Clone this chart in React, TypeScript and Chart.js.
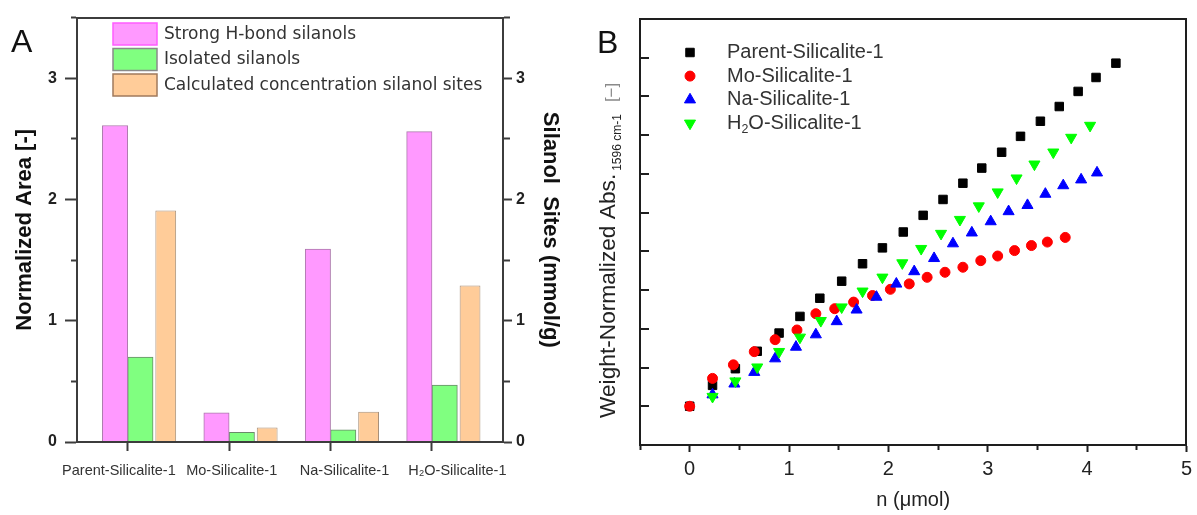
import React, { useEffect, useRef } from 'react';
import { Chart, registerables } from 'chart.js';
import { drawPoint } from 'chart.js/helpers';

Chart.register(...registerables);

const SANS = "'Liberation Sans', Arial, Helvetica, sans-serif";
const WIDE = "'DejaVu Sans', Verdana, sans-serif";

// ---------------- Panel A data ----------------
const sampleNames = ['Parent-Silicalite-1', 'Mo-Silicalite-1', 'Na-Silicalite-1', 'H₂O-Silicalite-1'];
const samplePositions = [0, 1, 2, 3];
const spacerValues = [0, 0, 0, 0];
const strongHBondSilanols = [2.61, 0.24, 1.59, 2.56];
const isolatedSilanols = [0.7, 0.08, 0.1, 0.47];
const silanolSites = [1.91, 0.12, 0.25, 1.29];
const areaTickLabels = ['0', '1', '2', '3'];
const sitesTickLabels = ['0', '1', '2', '3'];

// ---------------- Panel B data ----------------
const nTickLabels = ['0', '1', '2', '3', '4', '5'];
const parentN = [0, 0.23, 0.46, 0.68, 0.9, 1.11, 1.31, 1.53, 1.74, 1.94, 2.15, 2.35, 2.55, 2.75, 2.94, 3.14, 3.33, 3.53, 3.72, 3.91, 4.09, 4.29];
const parentAbs = [0, 0.54, 0.97, 1.42, 1.89, 2.32, 2.79, 3.23, 3.68, 4.09, 4.5, 4.93, 5.34, 5.76, 6.15, 6.56, 6.97, 7.36, 7.74, 8.13, 8.49, 8.86];
const moN = [0, 0.23, 0.44, 0.65, 0.86, 1.08, 1.27, 1.46, 1.65, 1.84, 2.02, 2.21, 2.39, 2.57, 2.75, 2.93, 3.1, 3.27, 3.44, 3.6, 3.78];
const moAbs = [0, 0.72, 1.07, 1.41, 1.72, 1.97, 2.39, 2.52, 2.69, 2.86, 3.02, 3.16, 3.33, 3.46, 3.59, 3.76, 3.88, 4.02, 4.15, 4.24, 4.36];
const naN = [0.23, 0.45, 0.65, 0.86, 1.07, 1.27, 1.48, 1.68, 1.88, 2.08, 2.26, 2.46, 2.65, 2.84, 3.03, 3.21, 3.4, 3.58, 3.76, 3.94, 4.1];
const naAbs = [0.3, 0.58, 0.88, 1.23, 1.53, 1.85, 2.19, 2.49, 2.82, 3.16, 3.48, 3.82, 4.2, 4.48, 4.77, 5.03, 5.19, 5.48, 5.7, 5.85, 6.03];
const h2oN = [0.23, 0.46, 0.68, 0.9, 1.11, 1.32, 1.53, 1.74, 1.94, 2.14, 2.33, 2.53, 2.72, 2.91, 3.1, 3.29, 3.47, 3.66, 3.84, 4.03];
const h2oAbs = [0.25, 0.65, 1.01, 1.41, 1.78, 2.21, 2.56, 2.97, 3.33, 3.7, 4.07, 4.46, 4.82, 5.17, 5.53, 5.89, 6.25, 6.56, 6.94, 7.25];

const toXY = (xs: number[], ys: number[]) => xs.map((x, i) => ({ x, y: ys[i] }));
const isMinor = (c: any) => c && c.tick && !Number.isInteger(c.tick.value);
const SUBS = '₀₁₂₃₄₅₆₇₈₉';

function drawRich(ctx: CanvasRenderingContext2D, text: string, x: number, y: number, size: number, family: string) {
  let run = '';
  let sub = false;
  let cx = x;
  const flush = () => {
    if (!run) return;
    const s = sub ? size * 0.62 : size;
    ctx.font = `${s}px ${family}`;
    ctx.fillText(run, cx, sub ? y + size * 0.3 : y);
    cx += ctx.measureText(run).width;
    run = '';
  };
  for (const ch of text) {
    const idx = SUBS.indexOf(ch);
    const isSub = idx >= 0;
    if (isSub !== sub) {
      flush();
      sub = isSub;
    }
    run += isSub ? String(idx) : ch;
  }
  flush();
}

const AXA = '#3c3c3c';
const AXB = '#1e1e1e';

function PanelA() {
  const ref = useRef<HTMLCanvasElement | null>(null);
  useEffect(() => {
    const panelAPlugin = {
      id: 'panelA',
      afterDraw(chart: any) {
        const ctx = chart.ctx as CanvasRenderingContext2D;
        ctx.save();
        ctx.fillStyle = '#111';
        ctx.textAlign = 'left';
        ctx.textBaseline = 'alphabetic';
        ctx.font = `32px ${SANS}`;
        ctx.fillText('A', 11, 52);
        const items = chart.data.datasets.filter((d: any) => d.label);
        items.forEach((d: any, i: number) => {
          const top = 23 + i * 25.5;
          ctx.fillStyle = d.backgroundColor;
          ctx.fillRect(113, top, 44, 22);
          ctx.strokeStyle = d.legendBorder;
          ctx.lineWidth = 1.5;
          ctx.strokeRect(113, top, 44, 22);
          ctx.fillStyle = '#333';
          ctx.textBaseline = 'middle';
          ctx.font = `17px ${WIDE}`;
          ctx.fillText(d.label, 164, top + 11.5);
        });
        ctx.restore();
      },
    };

    const chart = new Chart(ref.current as HTMLCanvasElement, {
      type: 'bar',
      data: {
        datasets: [
          {
            label: '',
            data: toXY(samplePositions, spacerValues),
            backgroundColor: 'rgba(0,0,0,0)',
            borderWidth: 0,
            yAxisID: 'y',
            categoryPercentage: 1,
            barPercentage: 1,
          },
          {
            label: 'Strong H-bond silanols',
            data: toXY(samplePositions, strongHBondSilanols),
            backgroundColor: '#ff99ff',
            borderColor: '#ad7aad',
            legendBorder: '#ff5cff',
            borderWidth: 1,
            yAxisID: 'y',
            categoryPercentage: 1,
            barPercentage: 1,
          },
          {
            label: 'Isolated silanols',
            data: toXY(samplePositions, isolatedSilanols),
            backgroundColor: '#80ff80',
            borderColor: '#6a8a6a',
            legendBorder: '#8a8a8a',
            borderWidth: 1,
            yAxisID: 'y',
            categoryPercentage: 1,
            barPercentage: 1,
          },
          {
            label: 'Calculated concentration silanol sites',
            data: toXY(samplePositions, silanolSites),
            backgroundColor: '#ffcc99',
            borderColor: '#a8907a',
            legendBorder: '#a07a5c',
            borderWidth: 1,
            yAxisID: 'y2',
            categoryPercentage: 1,
            barPercentage: 0.82,
          },
        ] as any,
      },
      options: {
        responsive: false,
        animation: false,
        events: [],
        layout: { padding: { top: 15, left: 0, right: 0, bottom: 0 } },
        plugins: { legend: { display: false }, tooltip: { enabled: false } },
        scales: {
          x: {
            type: 'linear',
            position: 'bottom',
            weight: 0,
            min: -0.5,
            max: 3.7,
            offset: false,
            afterFit: (s: any) => { s.height = 0; },
            ticks: { stepSize: 1, includeBounds: false, autoSkip: false, display: false },
            grid: { offset: false, drawOnChartArea: false, drawTicks: true, tickLength: 9, tickWidth: 2, tickColor: AXA },
            border: { display: true, color: AXA, width: 2, z: 1 },
          },
          xLabels: {
            type: 'linear',
            position: 'bottom',
            weight: 5,
            min: -0.3715,
            max: 3.405,
            offset: false,
            afterFit: (s: any) => { s.height = 73; },
            ticks: {
              stepSize: 1,
              includeBounds: false,
              autoSkip: false,
              maxRotation: 0,
              padding: 20.3,
              color: '#333',
              font: { family: SANS, size: 14.5 },
              callback: (v: any) => (Number.isInteger(v) ? sampleNames[v] ?? '' : ''),
            },
            grid: { display: false, drawTicks: false },
            border: { display: false },
          },
          xTop: {
            type: 'linear',
            position: 'top',
            offset: false,
            afterFit: (s: any) => { s.height = 0; },
            ticks: { display: false },
            grid: { display: false },
            border: { display: true, color: AXA, width: 2 },
          },
          y: {
            type: 'linear',
            position: 'left',
            min: 0,
            max: 3.5,
            afterFit: (s: any) => { s.width = 77; },
            ticks: {
              stepSize: 0.5,
              autoSkip: false,
              padding: 8,
              color: '#222',
              font: { family: SANS, size: 16, weight: 'bold' },
              callback: (v: any) => (Number.isInteger(v) ? areaTickLabels[v] ?? '' : ''),
            },
            grid: {
              drawOnChartArea: false,
              drawTicks: true,
              tickLength: 12,
              tickWidth: 2,
              tickColor: AXA,
              tickBorderDash: (c: any) => (isMinor(c) ? [5, 100] : []),
              tickBorderDashOffset: (c: any) => (isMinor(c) ? 99 : 0),
            },
            border: { display: true, color: AXA, width: 2 },
            title: {
              display: true,
              text: 'Normalized Area [-]',
              color: '#111',
              font: { family: SANS, size: 22, weight: 'bold' },
              padding: { top: 11.8, bottom: 0 },
            },
          },
          y2: {
            type: 'linear',
            position: 'right',
            min: 0,
            max: 3.5,
            afterFit: (s: any) => { s.width = 87; },
            ticks: {
              stepSize: 0.5,
              autoSkip: false,
              padding: 4,
              color: '#222',
              font: { family: SANS, size: 16, weight: 'bold' },
              callback: (v: any) => (Number.isInteger(v) ? sitesTickLabels[v] ?? '' : ''),
            },
            grid: {
              drawOnChartArea: false,
              drawTicks: true,
              tickLength: 9,
              tickWidth: 2,
              tickColor: AXA,
              tickBorderDash: (c: any) => (isMinor(c) ? [6, 100] : []),
              tickBorderDashOffset: 0,
            },
            border: { display: true, color: AXA, width: 2 },
            title: {
              display: true,
              text: 'Silanol  Sites (mmol/g)',
              color: '#111',
              font: { family: SANS, size: 22, weight: 'bold' },
              padding: { top: 26.8, bottom: 0 },
            },
          },
        },
      } as any,
      plugins: [panelAPlugin],
    });
    return () => chart.destroy();
  }, []);
  return (
    <canvas
      ref={ref}
      width={590}
      height={515}
      style={{ position: 'absolute', left: 0, top: 0, width: 590, height: 515, display: 'block' }}
    />
  );
}

function PanelB() {
  const ref = useRef<HTMLCanvasElement | null>(null);
  useEffect(() => {
    const series = [
      { label: 'Parent-Silicalite-1', xs: parentN, ys: parentAbs },
      { label: 'Mo-Silicalite-1', xs: moN, ys: moAbs },
      { label: 'Na-Silicalite-1', xs: naN, ys: naAbs },
      { label: 'H₂O-Silicalite-1', xs: h2oN, ys: h2oAbs },
    ];
    const styles = [
      { color: '#000000', pointStyle: 'rect', rotation: 0, radius: 6, order: 4 },
      { color: '#ff0000', pointStyle: 'circle', rotation: 0, radius: 5, order: 3 },
      { color: '#0000ff', pointStyle: 'triangle', rotation: 0, radius: 6.4, order: 2 },
      { color: '#00ff00', pointStyle: 'triangle', rotation: 180, radius: 6.4, order: 1 },
    ];

    const panelBPlugin = {
      id: 'panelB',
      afterDraw(chart: any) {
        const ctx = chart.ctx as CanvasRenderingContext2D;
        ctx.save();
        ctx.fillStyle = '#111';
        ctx.textAlign = 'left';
        ctx.textBaseline = 'alphabetic';
        ctx.font = `32px ${SANS}`;
        ctx.fillText('B', 7, 53);
        chart.data.datasets.forEach((d: any, i: number) => {
          const y = 52.5 + i * 23.6;
          ctx.fillStyle = d.backgroundColor;
          ctx.strokeStyle = d.borderColor;
          drawPoint(ctx, { pointStyle: d.pointStyle, rotation: d.pointRotation, radius: d.pointRadius, borderWidth: 1 } as any, 100, y);
          ctx.fillStyle = '#333';
          ctx.textBaseline = 'middle';
          drawRich(ctx, d.label, 137, y, 20, SANS);
        });
        // rotated y-axis title with subscript
        ctx.translate(19, 418);
        ctx.rotate(-Math.PI / 2);
        ctx.textAlign = 'left';
        ctx.textBaseline = 'middle';
        ctx.fillStyle = '#222';
        ctx.font = `22.7px ${SANS}`;
        const main = 'Weight-Normalized Abs.';
        ctx.fillText(main, 0, 0);
        let w = ctx.measureText(main).width + 3;
        ctx.font = `12px ${SANS}`;
        const sub = '1596 cm-1';
        ctx.fillText(sub, w, 9);
        w += ctx.measureText(sub).width + 12;
        ctx.fillStyle = '#8a8a8a';
        ctx.font = `17px ${SANS}`;
        ctx.fillText('[−]', w, 3);
        ctx.restore();
      },
    };

    const chart = new Chart(ref.current as HTMLCanvasElement, {
      type: 'scatter',
      data: {
        datasets: series.map((s, i) => ({
          label: s.label,
          data: toXY(s.xs, s.ys),
          backgroundColor: styles[i].color,
          borderColor: styles[i].color,
          pointStyle: styles[i].pointStyle,
          pointRotation: styles[i].rotation,
          pointRadius: styles[i].radius,
          pointBorderWidth: 1,
          order: styles[i].order,
        })) as any,
      },
      options: {
        responsive: false,
        animation: false,
        events: [],
        layout: { padding: { top: 19, left: 0, right: 5, bottom: 0 } },
        plugins: { legend: { display: false }, tooltip: { enabled: false } },
        scales: {
          x: {
            type: 'linear',
            position: 'bottom',
            min: -0.5,
            max: 5,
            afterFit: (s: any) => { s.height = 70; },
            ticks: {
              stepSize: 0.5,
              autoSkip: false,
              maxRotation: 0,
              padding: 5,
              color: '#222',
              font: { family: SANS, size: 20 },
              callback: (v: any) => (Number.isInteger(v) ? nTickLabels[v] ?? '' : ''),
            },
            grid: {
              drawOnChartArea: false,
              drawTicks: true,
              tickLength: 7,
              tickWidth: 2,
              tickColor: AXB,
              tickBorderDash: (c: any) => (isMinor(c) ? [4, 100] : []),
              tickBorderDashOffset: 0,
            },
            border: { display: true, color: AXB, width: 2, z: 1 },
            title: {
              display: true,
              text: 'n (μmol)',
              color: '#222',
              font: { family: SANS, size: 20 },
              padding: { top: 0, bottom: 3 },
            },
          },
          y: {
            type: 'linear',
            position: 'left',
            min: -1,
            max: 10,
            afterFit: (s: any) => { s.width = 50; },
            ticks: { stepSize: 1, display: false },
            grid: { drawOnChartArea: true, drawTicks: false, color: AXB, lineWidth: 2 },
            border: { display: true, color: AXB, width: 2, dash: [8, 3000], z: 1 },
          },
          xTop: {
            type: 'linear',
            position: 'top',
            afterFit: (s: any) => { s.height = 0; },
            ticks: { display: false },
            grid: { display: false },
            border: { display: true, color: AXB, width: 2, z: 1 },
          },
          yRight: {
            type: 'linear',
            position: 'right',
            afterFit: (s: any) => { s.width = 0; },
            ticks: { display: false },
            grid: { display: false },
            border: { display: true, color: AXB, width: 2, z: 1 },
          },
        },
      } as any,
      plugins: [panelBPlugin],
    });
    return () => chart.destroy();
  }, []);
  return (
    <canvas
      ref={ref}
      width={607}
      height={515}
      style={{ position: 'absolute', left: 590, top: 0, width: 607, height: 515, display: 'block' }}
    />
  );
}

export default function App() {
  return (
    <div style={{ position: 'fixed', left: 0, top: 0, width: 1197, height: 515, background: '#ffffff', overflow: 'hidden' }}>
      <PanelA />
      <PanelB />
    </div>
  );
}
